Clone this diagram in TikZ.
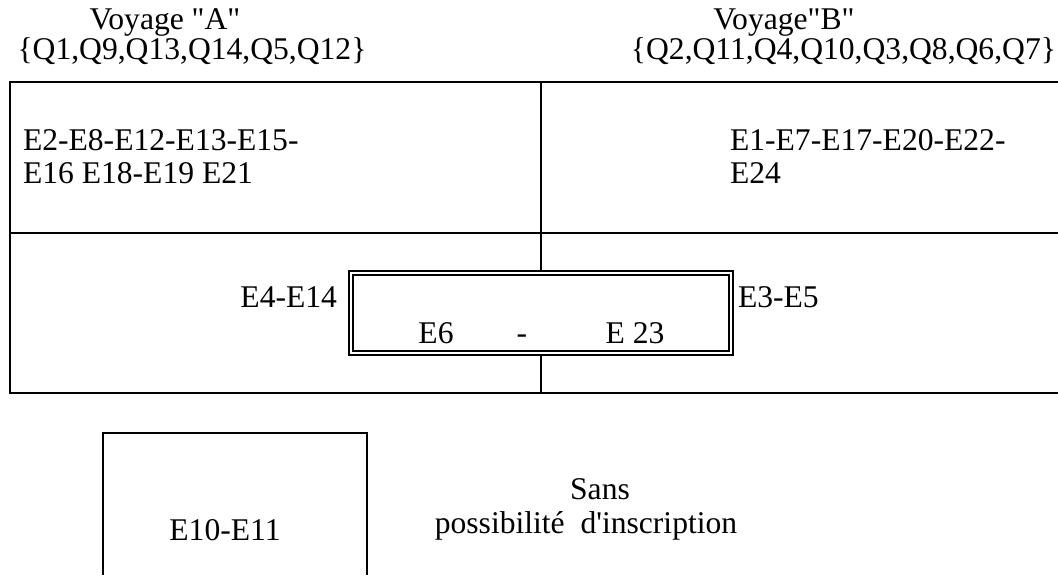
\documentclass[tikz,border=0pt]{standalone}
\usepackage{fontspec}
\setmainfont{Liberation Serif}
\usetikzlibrary{positioning}

\begin{document}
\begin{tikzpicture}[x=0.5pt, y=-0.5pt, line width=1pt,
  lbl/.style={inner sep=0pt, font=\fontsize{15.8}{18}\selectfont},
  dbox/.style={draw, double, double distance=1.3pt, line width=0.75pt, fill=white,
    minimum width=190pt, minimum height=40pt, inner sep=0pt}]
\useasboundingbox (0,0) rectangle (1058,575);

% Headings of the two trips
\node[lbl, anchor=base] (voyA) at (165,29) {Voyage \textquotedbl A\textquotedbl};
\node[lbl, anchor=base] (qA) at (192,59) {\{Q1,Q9,Q13,Q14,Q5,Q12\}};
\node[lbl, anchor=base] (voyB) at (784,29) {Voyage\textquotedbl B\textquotedbl};
\node[lbl, anchor=base east] (qB) at (1057,59) {\{Q2,Q11,Q4,Q10,Q3,Q8,Q6,Q7\}};

% Table frame (open on the right)
\draw (1058,82) -- (10,82) -- (10,393) -- (1058,393);
\draw (10,233) -- (1058,233);
\draw (541,82) -- (541,233);

% Upper cells
\node[lbl, anchor=base west] (ea1) at (22,150) {E2-E8-E12-E13-E15-};
\node[lbl, anchor=base west] (ea2) at (22,183) {E16 E18-E19 E21};
\node[lbl, anchor=base west] (eb1) at (729,150) {E1-E7-E17-E20-E22-};
\node[lbl, anchor=base west] (eb2) at (729,183) {E24};

% Common part, framed twice
\node[dbox] (both) at (541,313) {};
\draw (541,233) -- (both.north);
\draw (both.south) -- (541,393);
\node[lbl, anchor=base east] (ela) at (338,307) {E4-E14};
\node[lbl, anchor=base west] (elb) at (737,307) {E3-E5};
\node[lbl, anchor=base] (e6) at (436,343) {E6};
\node[lbl, anchor=base] (dash) at (522,343) {-};
\node[lbl, anchor=base] (e23) at (635,343) {E 23};

% Left out
\draw (103,575) -- (103,433) -- (367,433) -- (367,575);
\node[lbl, anchor=base] (eout) at (225,540) {E10-E11};
\node[lbl, anchor=base] (sans) at (600,499) {Sans};
\node[lbl, anchor=base] (noins) at (586,533) {possibilité\ \ d\textquotesingle inscription};

\end{tikzpicture}
\end{document}
